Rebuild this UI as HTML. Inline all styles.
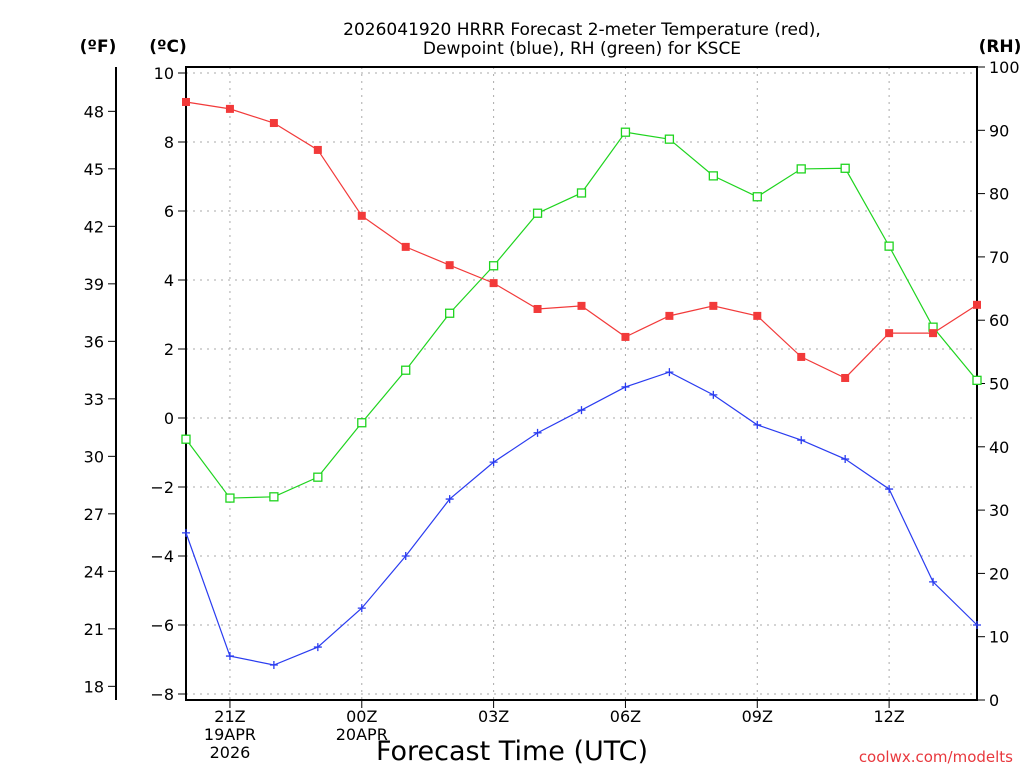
<!DOCTYPE html>
<html><head><meta charset="utf-8"><style>
body{margin:0;background:#fff;}
svg text{font-family:"DejaVu Sans","Liberation Sans",sans-serif;}
</style></head><body>
<svg id="chart" width="1024" height="768" xmlns="http://www.w3.org/2000/svg">
<g id="grid"></g><g id="axes"></g><g id="series"></g>
<text x="582" y="35" font-size="17" text-anchor="middle">2026041920 HRRR Forecast 2-meter Temperature (red),</text>
<text x="582" y="54" font-size="17" text-anchor="middle">Dewpoint (blue), RH (green) for KSCE</text>
<text x="98" y="52" font-size="17" font-weight="bold" text-anchor="middle">(ºF)</text>
<text x="168" y="52" font-size="17" font-weight="bold" text-anchor="middle">(ºC)</text>
<text x="1000" y="52" font-size="17" font-weight="bold" text-anchor="middle">(RH)</text>
<text x="512" y="760" font-size="27" text-anchor="middle">Forecast Time (UTC)</text>
<text x="1013" y="762" font-size="15" fill="#e8383d" text-anchor="end">coolwx.com/modelts</text>
</svg>
<script>
const hours=[0,1,2,3,4,5,6,7,8,9,10,11,12,13,14,15,16,17,18];
const tempC=[9.16,8.96,8.55,7.77,5.86,4.96,4.43,3.91,3.16,3.25,2.35,2.96,3.25,2.96,1.77,1.16,2.46,2.46,3.28];
const dewC=[-3.33,-6.9,-7.16,-6.64,-5.51,-4.0,-2.35,-1.28,-0.43,0.23,0.9,1.33,0.67,-0.2,-0.64,-1.19,-2.06,-4.75,-6.0];
const rh=[41.2,31.9,32.1,35.2,43.8,52.1,61.1,68.6,76.9,80.1,89.7,88.6,82.8,79.5,83.9,84.0,71.7,58.9,50.5];
const cTicks=[-8,-6,-4,-2,0,2,4,6,8,10];
const fTicks=[18,21,24,27,30,33,36,39,42,45,48];
const rhTicks=[0,10,20,30,40,50,60,70,80,90,100];
const xTickHours=[1,4,7,10,13,16];
const xTickLabels=[["21Z","19APR","2026"],["00Z","20APR"],["03Z"],["06Z"],["09Z"],["12Z"]];
const L=186,R=977,T=67,B=700;
const xS=h=>L+h*(R-L)/18;
const yC=c=>418-c*34.5;
const yF=f=>yC((f-32)/1.8);
const yRH=v=>B-v*(B-T)/100;
const NS="http://www.w3.org/2000/svg";
function mk(p,tag,at){const e=document.createElementNS(NS,tag);for(const k in at)e.setAttribute(k,at[k]);document.getElementById(p).appendChild(e);return e;}
// grid
cTicks.forEach(c=>{const e=mk('grid','line',{x1:L,x2:R,y1:yC(c),y2:yC(c),stroke:'#aaa','stroke-dasharray':'2,5'});

});
xTickHours.forEach(h=>{const e=mk('grid','line',{x1:xS(h),x2:xS(h),y1:T,y2:B,stroke:'#aaa','stroke-dasharray':'2,5'});

});
// axes
let a=mk('axes','rect',{x:L,y:T,width:R-L,height:B-T,fill:'none',stroke:'#000','stroke-width':2});


a=mk('axes','line',{x1:116,x2:116,y1:T,y2:B,stroke:'#000','stroke-width':2});


cTicks.forEach(c=>{mk('axes','line',{x1:L-8,x2:L,y1:yC(c),y2:yC(c),stroke:'#000'});
const t=mk('axes','text',{x:L-12,y:yC(c)+6,'font-size':16,'text-anchor':'end'});t.textContent=c<0?'\u2212'+(-c):c;

});
fTicks.forEach(f=>{mk('axes','line',{x1:108,x2:116,y1:yF(f),y2:yF(f),stroke:'#000'});
const t=mk('axes','text',{x:104,y:yF(f)+6,'font-size':16,'text-anchor':'end'});t.textContent=f;

});
rhTicks.forEach(v=>{mk('axes','line',{x1:R,x2:R+8,y1:yRH(v),y2:yRH(v),stroke:'#000'});
const t=mk('axes','text',{x:R+12,y:yRH(v)+6,'font-size':16});t.textContent=v;

});
xTickHours.forEach((h,i)=>{mk('axes','line',{x1:xS(h),x2:xS(h),y1:B,y2:B+8,stroke:'#000'});
xTickLabels[i].forEach((s,j)=>{const t=mk('axes','text',{x:xS(h),y:B+22+j*18,'font-size':16,'text-anchor':'middle'});t.textContent=s;

});});
// series
function series(vals,yf,color,marker,name){
const pts=vals.map((v,i)=>xS(hours[i])+','+yf(v)).join(' ');
const pl=mk('series','polyline',{points:pts,fill:'none',stroke:color,'stroke-width':1.2});


vals.forEach((v,i)=>{const x=xS(hours[i]),y=yf(v);let m;
if(marker==='sq')m=mk('series','rect',{x:x-4,y:y-4,width:8,height:8,fill:color});
else if(marker==='open')m=mk('series','rect',{x:x-4,y:y-4,width:8,height:8,fill:'#fff',stroke:color,'stroke-width':1.3});
else m=mk('series','path',{d:`M${x-4},${y}H${x+4}M${x},${y-4}V${y+4}`,stroke:color,'stroke-width':1.3});

});}
series(rh,yRH,'#1fd41f','open','rh');
series(tempC,yC,'#f23a3a','sq','temperature');
series(dewC,yC,'#2a3cf0','plus','dewpoint');
</script>
</body></html>
